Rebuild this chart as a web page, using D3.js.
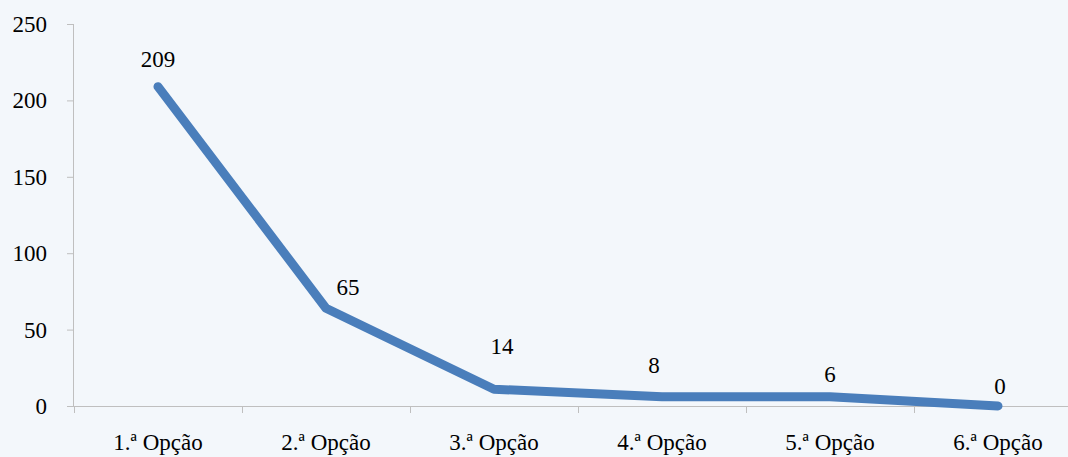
<!DOCTYPE html>
<html><head><meta charset="utf-8">
<script src="https://cdn.jsdelivr.net/npm/d3@7"></script>
<style>
html,body{margin:0;padding:0;background:#f3f7fb;}
svg{display:block;}
text{font-family:"Liberation Serif","Times New Roman",serif;fill:#000;}
</style></head>
<body><svg id="c" width="1068" height="457"></svg>
<script>
// data
const categories = ["1.ª Opção","2.ª Opção","3.ª Opção","4.ª Opção","5.ª Opção","6.ª Opção"];
const values = [209, 64, 11, 6, 6, 0];          // plotted line values (as drawn)
const dataLabels = ["209","65","14","8","6","0"]; // printed data labels
const yTicks = [0, 50, 100, 150, 200, 250];
// label nudges (layout only)
const labelDx = [0, 22, 8, -8, 0, 2];
const labelDy = [-28, -21, -43, -32, -23, -20];

(function(){
const svg = d3.select("#c");
const W = 1068, H = 457;
const mLeft = 74, mRight = 1082, mTop = 24, mBottom = 406;
const FS = 23;

const x = d3.scaleBand().domain(categories).range([mLeft, mRight]).paddingInner(0).paddingOuter(0);
const y = d3.scaleLinear().domain([0, 250]).range([mBottom, mTop]);

svg.append("rect").attr("width", W).attr("height", H).attr("fill", "#f3f7fb");

const axisColor = "#bfbfbf";
// y axis
const ya = svg.append("g").attr("transform", `translate(${mLeft},0)`)
  .call(d3.axisLeft(y).tickValues(yTicks).tickSize(7).tickPadding(20).tickFormat(d3.format("d")));
ya.select(".domain").attr("stroke", axisColor).attr("d", `M-0.5,${mBottom}V${mTop}`);
ya.selectAll(".tick line").attr("stroke", axisColor);
ya.selectAll(".tick text").attr("font-size", FS).attr("font-family", "Liberation Serif").attr("fill", "#000").attr("dy", "0.33em");

// x axis
const xa = svg.append("g").attr("transform", `translate(0,${mBottom})`)
  .call(d3.axisBottom(x).tickSize(0).tickPadding(28));
xa.select(".domain").attr("stroke", axisColor).attr("d", `M${mLeft},0.5H${W}`);
xa.selectAll(".tick text").attr("font-size", FS).attr("font-family", "Liberation Serif").attr("fill", "#000");
// category boundary ticks
const bounds = categories.map(c => x(c)).concat([x(categories[categories.length-1]) + x.bandwidth()]);
svg.append("g").selectAll("line").data(bounds).join("line")
  .attr("x1", d => Math.round(d) + 0.5).attr("x2", d => Math.round(d) + 0.5)
  .attr("y1", mBottom).attr("y2", mBottom + 7)
  .attr("stroke", axisColor);

// line
const cx = c => x(c) + x.bandwidth() / 2;
const line = d3.line().x((d, i) => cx(categories[i])).y(d => y(d));
svg.append("path").datum(values)
  .attr("d", line)
  .attr("fill", "none")
  .attr("stroke", "#4a7ebb")
  .attr("stroke-width", 9)
  .attr("stroke-linecap", "round")
  .attr("stroke-linejoin", "round");

// labels
svg.append("g").selectAll("text").data(dataLabels).join("text")
  .attr("x", (d, i) => cx(categories[i]) + labelDx[i])
  .attr("y", (d, i) => y(values[i]) + labelDy[i])
  .attr("dy", "0.35em")
  .attr("text-anchor", "middle")
  .attr("font-size", FS)
  .text(d => d);
})();
</script></body></html>
